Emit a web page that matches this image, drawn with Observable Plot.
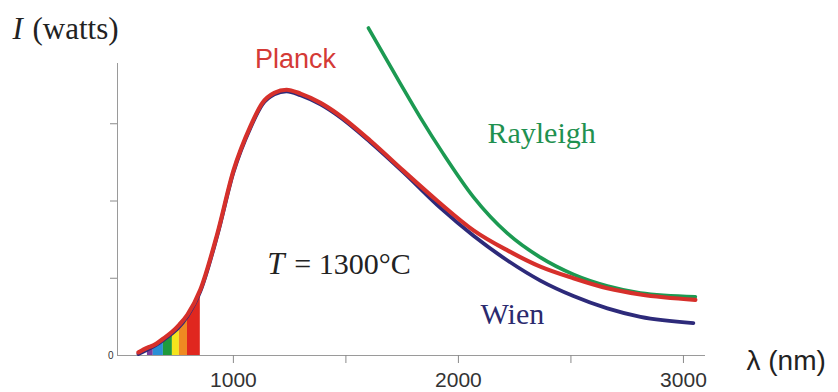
<!DOCTYPE html>
<html><head><meta charset="utf-8">
<script src="https://cdn.jsdelivr.net/npm/d3@7"></script>
<script src="https://cdn.jsdelivr.net/npm/@observablehq/plot@0.6"></script>
<style>body{margin:0;background:#fff;}</style>
</head><body><div id="chart"></div>
<script>
// wavelength (nm) and intensity (tick units)
const planckLambda = [578, 618, 644, 689, 729, 760, 796, 853, 929, 1000, 1076, 1129, 1182, 1236, 1298, 1387, 1462, 1609, 1756, 1907, 2067, 2218, 2364, 2511, 2662, 2809, 3053];
const planckI      = [0.04, 0.10, 0.13, 0.22, 0.31, 0.40, 0.53, 0.85, 1.58, 2.39, 2.97, 3.27, 3.40, 3.44, 3.39, 3.27, 3.13, 2.78, 2.39, 2.00, 1.62, 1.36, 1.15, 1.00, 0.87, 0.79, 0.72];

const wienLambda = [578, 689, 796, 853, 929, 1000, 1076, 1129, 1182, 1236, 1298, 1387, 1462, 1609, 1756, 1920, 2067, 2218, 2364, 2511, 2662, 2809, 3044];
const wienI      = [0.02, 0.20, 0.51, 0.83, 1.56, 2.37, 2.95, 3.25, 3.38, 3.42, 3.37, 3.25, 3.11, 2.76, 2.37, 1.91, 1.55, 1.23, 0.97, 0.77, 0.61, 0.50, 0.42];

const rayleighLambda = [1600, 1742, 1831, 1933, 2067, 2218, 2364, 2511, 2662, 2809, 3053];
const rayleighI      = [4.24, 3.52, 3.08, 2.61, 2.05, 1.58, 1.27, 1.05, 0.90, 0.81, 0.76];

// visible-band edges (nm) under the Planck curve
const bandEdges = [618, 644, 689, 729, 760, 796, 853];
const bandNames = ["violet", "blue", "green", "yellow", "orange", "red"];

const xTicks = [1000, 1500, 2000, 2500, 3000];
const yTicks = [1, 2, 3];

const bandColors = {violet: "#7a3d9c", blue: "#2a8fd6", green: "#1f9a3c", yellow: "#f4e41c", orange: "#ef8a22", red: "#e0271f"};
const xDomain = [485, 3098];
const yDomain = [0, 3.78];

const planck = planckLambda.map((x, i) => ({x, y: planckI[i]}));
const wien = wienLambda.map((x, i) => ({x, y: wienI[i]}));
const rayleigh = rayleighLambda.map((x, i) => ({x, y: rayleighI[i]}));

const bandMarks = bandNames.map((name, i) =>
  Plot.areaY(planck.filter(d => d.x >= bandEdges[i] && d.x <= bandEdges[i + 1]),
    {x: "x", y: "y", fill: bandColors[name], curve: "linear"}));

const serif = "'Liberation Serif', 'Times New Roman', serif";
const sans = "'Liberation Sans', Arial, sans-serif";
const curve = "monotone-x";

const chart = Plot.plot({
  width: 838, height: 392,
  marginLeft: 117, marginRight: 133, marginTop: 63, marginBottom: 37,
  x: {domain: xDomain},
  y: {domain: yDomain},
  style: {background: "white", overflow: "visible"},
  marks: [
    ...bandMarks,
    Plot.ruleY([yDomain[0]], {stroke: "#9a9a9a", strokeWidth: 1}),
    Plot.ruleX([xDomain[0]], {stroke: "#9a9a9a", strokeWidth: 1}),
    Plot.axisX({ticks: xTicks, tickSize: 8, tickPadding: 9, stroke: "#8a8a8a", fill: "#333",
      tickFormat: d => d % 1000 === 0 ? String(d) : "", fontSize: 21, fontFamily: sans, label: null}),
    Plot.axisY({ticks: yTicks, tickSize: 7, stroke: "#8a8a8a", tickFormat: () => "", label: null}),
    Plot.axisY({ticks: [0], tickSize: 0, tickPadding: 4, fill: "#333", fontSize: 10, fontFamily: sans,
      tickFormat: d => String(d), label: null}),
    Plot.line(wien, {x: "x", y: "y", stroke: "#2d2a7a", strokeWidth: 3.8, curve}),
    Plot.line(rayleigh, {x: "x", y: "y", stroke: "#1c9a52", strokeWidth: 3.6, curve}),
    Plot.line(planck, {x: "x", y: "y", stroke: "#d6302b", strokeWidth: 4.2, curve}),
    Plot.text(["Planck"], {x: 1276, y: 3.72, textAnchor: "middle", lineAnchor: "bottom", fill: "#d43a36", fontSize: 27, fontFamily: sans}),
    Plot.text(["Rayleigh"], {x: 2129, y: 2.754, textAnchor: "start", lineAnchor: "bottom", fill: "#1f9150", fontSize: 30, fontFamily: serif}),
    Plot.text(["Wien"], {x: 2098, y: 0.414, textAnchor: "start", lineAnchor: "bottom", fill: "#2b2a6e", fontSize: 30, fontFamily: serif}),
    Plot.text(["T"], {x: 1151, y: 1.06, textAnchor: "start", lineAnchor: "bottom", fill: "#222", fontSize: 31, fontStyle: "italic", fontFamily: serif}),
    Plot.text(["= 1300°C"], {x: 1151, y: 1.06, dx: 27, textAnchor: "start", lineAnchor: "bottom", fill: "#222", fontSize: 30, fontFamily: serif}),
    Plot.text(["I"], {frameAnchor: "top-left", dx: -105, dy: -25, textAnchor: "start", lineAnchor: "bottom", fill: "#222", fontSize: 31, fontStyle: "italic", fontFamily: serif}),
    Plot.text(["(watts)"], {frameAnchor: "top-left", dx: -85, dy: -25, textAnchor: "start", lineAnchor: "bottom", fill: "#222", fontSize: 31, fontFamily: serif}),
    Plot.text(["λ (nm)"], {frameAnchor: "bottom-right", dx: 41, dy: 14, textAnchor: "start", lineAnchor: "bottom", fill: "#222", fontSize: 28, fontFamily: sans})
  ]
});
document.getElementById("chart").appendChild(chart);
</script></body></html>
